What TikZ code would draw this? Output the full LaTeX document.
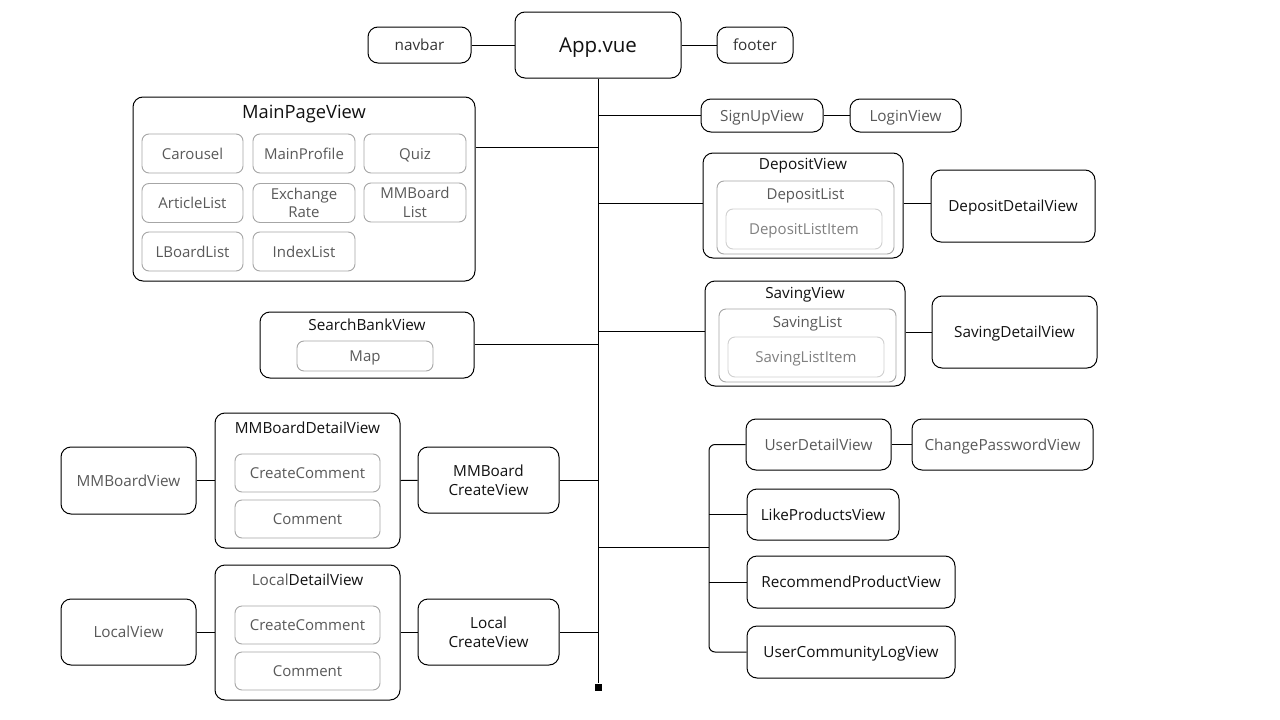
\documentclass[tikz,border=0pt]{standalone}
\usepackage{fontspec}
\setmainfont{Open Sans}
\definecolor{inkblack}{HTML}{111111}
\definecolor{inkdark}{HTML}{333333}
\definecolor{inkgray}{HTML}{595959}
\definecolor{inklight}{HTML}{808080}
\definecolor{partgray}{HTML}{A6A6A6}
\definecolor{itemgray}{HTML}{D0D0D0}
\newcommand{\viewtext}{\fontsize{15.3}{18.5}\selectfont}
\newcommand{\parttext}{\fontsize{15}{18.5}\selectfont}
\newcommand{\titletext}{\fontsize{18.3}{21}\selectfont}
\newcommand{\apptext}{\fontsize{20.5}{24}\selectfont}
\tikzset{
  viewbox/.style={draw=black,line width=1pt,rounded corners=10pt,inner sep=0pt,align=center,text depth=0pt,text=inkblack},
  partbox/.style={draw=partgray,line width=0.9pt,rounded corners=7pt,inner sep=0pt,align=center,text depth=0pt,font=\parttext,text=inkgray},
  itembox/.style={draw=itemgray,line width=0.9pt,rounded corners=7pt,inner sep=0pt,align=center,text depth=0pt,font=\parttext,text=inklight},
  boxtitle/.style={inner sep=0pt,text depth=0pt,text=inkblack},
  wire/.style={draw=black,line width=1pt}
}

\begin{document}
\begin{tikzpicture}[x=1pt,y=-1pt,font=\viewtext]
\useasboundingbox[fill=white] (0,0) rectangle (1280,720);

% top row
\node[viewbox,minimum width=166,minimum height=66,font=\apptext] (app) at (598,45) {App.vue};
\node[viewbox,minimum width=103,minimum height=36,text=inkdark] (navbar) at (419.5,45) {navbar};
\node[viewbox,minimum width=76,minimum height=36,text=inkdark] (footer) at (755,45) {footer};
\node[fill=black,minimum size=7,inner sep=0pt] (tail) at (598,687) {};

% main page
\node[viewbox,minimum width=342,minimum height=184] (mainpage) at (304,189) {};
\node[boxtitle,font=\titletext] (mainpage-title) at (304,112) {MainPageView};
\node[partbox,minimum width=101,minimum height=39] (carousel) at (192.5,153.5) {Carousel};
\node[partbox,minimum width=102,minimum height=39] (mainprofile) at (304,153.5) {MainProfile};
\node[partbox,minimum width=102,minimum height=39] (quiz) at (415,153.5) {Quiz};
\node[partbox,minimum width=101,minimum height=39] (articlelist) at (192.5,203) {ArticleList};
\node[partbox,minimum width=102,minimum height=39] (exchangerate) at (304,203) {Exchange\\Rate};
\node[partbox,minimum width=102,minimum height=39] (mmboardlist) at (415,202.5) {MMBoard\\List};
\node[partbox,minimum width=101,minimum height=39] (lboardlist) at (192.5,251.5) {LBoardList};
\node[partbox,minimum width=102,minimum height=39] (indexlist) at (304,251.5) {IndexList};

% search bank
\node[viewbox,minimum width=214,minimum height=66] (searchbank) at (367,345) {};
\node[boxtitle] (searchbank-title) at (367,325) {SearchBankView};
\node[partbox,minimum width=136,minimum height=30] (map) at (365,356) {Map};

% sign up / login
\node[viewbox,minimum width=122,minimum height=33,text=inkgray] (signup) at (762,115.5) {SignUpView};
\node[viewbox,minimum width=111,minimum height=33,text=inkgray] (login) at (905.5,115.5) {LoginView};

% deposit
\node[viewbox,minimum width=200,minimum height=105] (deposit) at (803,205.5) {};
\node[boxtitle] (deposit-title) at (803,164) {DepositView};
\node[partbox,minimum width=177,minimum height=73] (depositlist) at (805.5,217.5) {};
\node[boxtitle,font=\parttext,text=inkgray] (depositlist-title) at (805.5,194) {DepositList};
\node[itembox,minimum width=156,minimum height=40] (depositlistitem) at (804,229) {DepositListItem};
\node[viewbox,minimum width=164,minimum height=72] (depositdetail) at (1013,206) {DepositDetailView};

% saving
\node[viewbox,minimum width=200,minimum height=105] (saving) at (805,333.5) {};
\node[boxtitle] (saving-title) at (805,293) {SavingView};
\node[partbox,minimum width=177,minimum height=73] (savinglist) at (807.5,345.5) {};
\node[boxtitle,font=\parttext,text=inkgray] (savinglist-title) at (807.5,322) {SavingList};
\node[itembox,minimum width=156,minimum height=40] (savinglistitem) at (806,357) {SavingListItem};
\node[viewbox,minimum width=165,minimum height=72] (savingdetail) at (1014.5,332) {SavingDetailView};

% mmboard
\node[viewbox,minimum width=185,minimum height=135] (mmdetail) at (307.5,480.5) {};
\node[boxtitle] (mmdetail-title) at (307.5,428) {MMBoardDetailView};
\node[partbox,minimum width=145,minimum height=38] (mmcreatecomment) at (307.5,473) {CreateComment};
\node[partbox,minimum width=145,minimum height=38] (mmcomment) at (307.5,519) {Comment};
\node[viewbox,minimum width=135,minimum height=67,text=inkgray] (mmview) at (128.5,480.5) {MMBoardView};
\node[viewbox,minimum width=141,minimum height=66] (mmcreate) at (488.5,480) {MMBoard\\CreateView};

% local
\node[viewbox,minimum width=185,minimum height=135] (localdetail) at (307.5,632.5) {};
\node[boxtitle] (localdetail-title) at (307.5,580) {{\color{inkgray}Local}DetailView};
\node[partbox,minimum width=145,minimum height=38] (localcreatecomment) at (307.5,625) {CreateComment};
\node[partbox,minimum width=145,minimum height=38] (localcomment) at (307.5,671) {Comment};
\node[viewbox,minimum width=135,minimum height=66,text=inkgray] (localview) at (128.5,632) {LocalView};
\node[viewbox,minimum width=141,minimum height=66] (localcreate) at (488.5,632) {Local\\CreateView};

% user pages
\node[viewbox,minimum width=145,minimum height=51,text=inkgray] (userdetail) at (818.5,444.5) {UserDetailView};
\node[viewbox,minimum width=181,minimum height=51,text=inkgray] (changepw) at (1002.5,444.5) {ChangePasswordView};
\node[viewbox,minimum width=152,minimum height=51] (likeproducts) at (823,514.5) {LikeProductsView};
\node[viewbox,minimum width=208,minimum height=52] (recommend) at (851,582) {RecommendProductView};
\node[viewbox,minimum width=208,minimum height=52] (communitylog) at (851,652) {UserCommunityLogView};

% trunk and branches
\coordinate (j-signup) at (598,115.5);
\coordinate (j-mainpage) at (598,147);
\coordinate (j-deposit) at (598,203);
\coordinate (j-saving) at (598,331);
\coordinate (j-searchbank) at (598,344);
\coordinate (j-mmboard) at (598,480);
\coordinate (j-user) at (598,547);
\coordinate (j-local) at (598,632);
\coordinate (userbus) at (709,547);

\draw[wire] (navbar) -- (app);
\draw[wire] (app) -- (footer);
\draw[wire] (app) -- (tail);
\draw[wire] (j-signup) -- (signup);
\draw[wire] (signup) -- (login);
\draw[wire] (j-mainpage) -- (j-mainpage -| mainpage.east);
\draw[wire] (j-deposit) -- (j-deposit -| deposit.west);
\draw[wire] (j-deposit -| deposit.east) -- (j-deposit -| depositdetail.west);
\draw[wire] (j-saving) -- (j-saving -| saving.west);
\draw[wire] (saving.east |- savingdetail) -- (savingdetail);
\draw[wire] (j-searchbank) -- (j-searchbank -| searchbank.east);
\draw[wire] (mmview) -- (mmview -| mmdetail.west);
\draw[wire] (mmview -| mmdetail.east) -- (mmcreate);
\draw[wire] (j-mmboard) -- (j-mmboard -| mmcreate.east);
\draw[wire] (localview) -- (localview -| localdetail.west);
\draw[wire] (localview -| localdetail.east) -- (localcreate);
\draw[wire] (j-local) -- (j-local -| localcreate.east);
\draw[wire] (j-user) -- (userbus);
\draw[wire,rounded corners=6pt] (userdetail.west) -| (userbus) |- (communitylog.west);
\draw[wire] (likeproducts.west -| userbus) -- (likeproducts.west);
\draw[wire] (recommend.west -| userbus) -- (recommend.west);
\draw[wire] (userdetail) -- (changepw);
\end{tikzpicture}
\end{document}
